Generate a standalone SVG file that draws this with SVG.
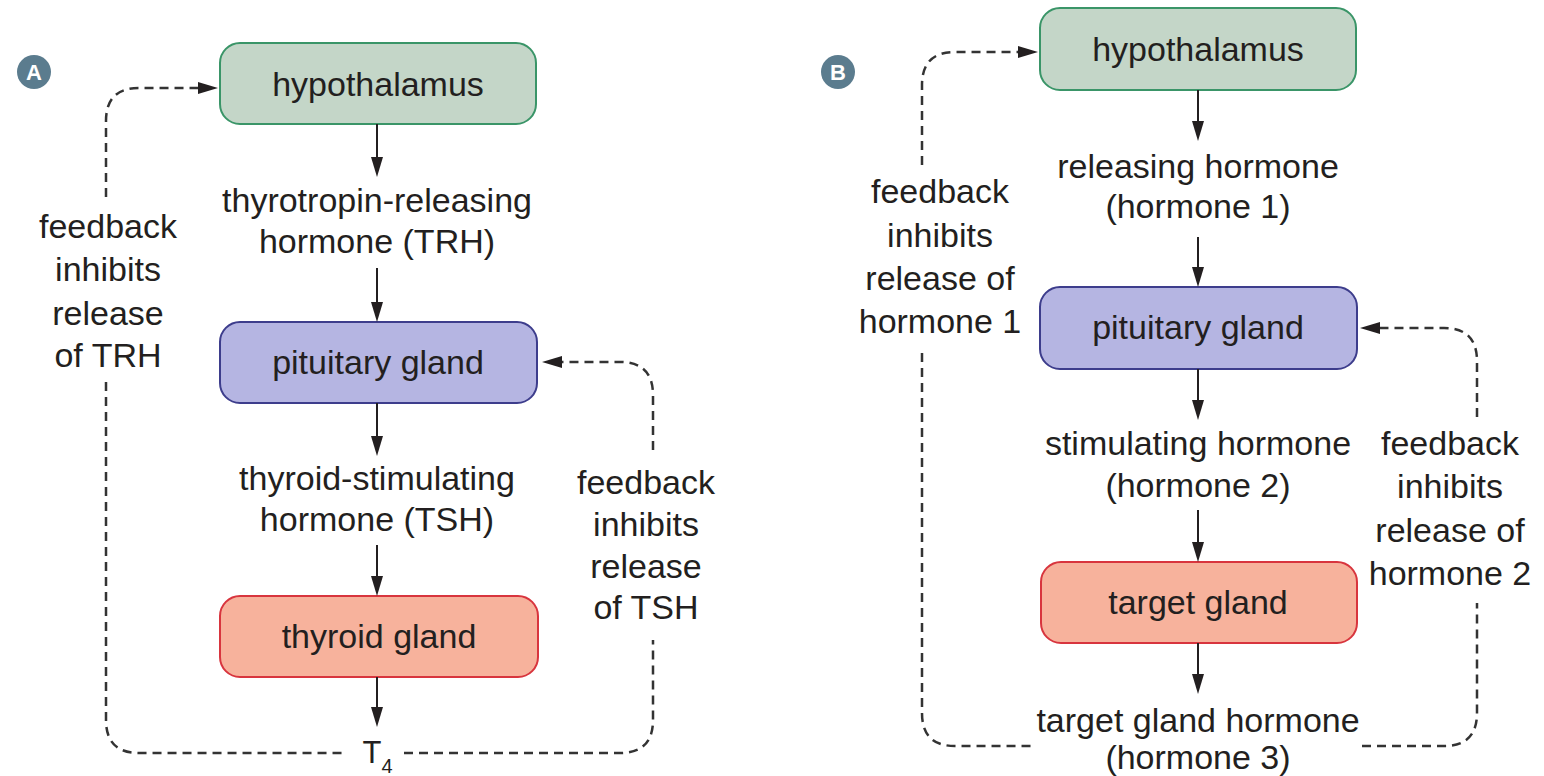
<svg xmlns="http://www.w3.org/2000/svg" width="1544" height="776" viewBox="0 0 1544 776">
<defs>
<style>
.t{font-family:"Liberation Sans",Arial,sans-serif;font-size:34px;fill:#231f20;text-anchor:middle}
.sol{stroke:#231f20;stroke-width:2;fill:none}
.dash{stroke:#333;stroke-width:2.5;fill:none;stroke-dasharray:9 6}
.hyp{fill:#c4d6c8;stroke:#3a9568;stroke-width:2}
.pit{fill:#b5b5e2;stroke:#3d3d8c;stroke-width:2}
.thy{fill:#f7b29c;stroke:#d8353e;stroke-width:2}
.badge{fill:#5b7c8e}
.bt{font-family:"Liberation Sans",Arial,sans-serif;font-size:22px;font-weight:bold;fill:#fff;text-anchor:middle}
</style>
<marker id="ah" viewBox="0 0 20 12" refX="10" refY="6" markerWidth="20" markerHeight="12" markerUnits="userSpaceOnUse" orient="auto">
<path d="M0,0 L20,6 L0,12 z" fill="#231f20"/>
</marker>
</defs>
<rect width="1544" height="776" fill="#fff"/>

<g id="badgeA"><circle class="badge" cx="34" cy="72" r="17"/><text class="bt" x="34" y="80">A</text></g>
<g id="badgeB"><circle class="badge" cx="838" cy="72" r="17"/><text class="bt" x="838" y="80">B</text></g>

<g id="A-hypothalamus"><rect class="hyp" x="220" y="43" width="316" height="81" rx="20"/><text class="t" x="378" y="96">hypothalamus</text></g>
<g id="A-trh"><text class="t" x="377" y="212">thyrotropin-releasing</text><text class="t" x="377" y="253">hormone (TRH)</text></g>
<g id="A-pituitary"><rect class="pit" x="220" y="322" width="317" height="81" rx="20"/><text class="t" x="378" y="374">pituitary gland</text></g>
<g id="A-tsh"><text class="t" x="377" y="490">thyroid-stimulating</text><text class="t" x="377" y="531">hormone (TSH)</text></g>
<g id="A-thyroid"><rect class="thy" x="220" y="596" width="318" height="81" rx="20"/><text class="t" x="379" y="648">thyroid gland</text></g>
<g id="A-t4"><text class="t" x="372" y="763" style="font-size:31px">T</text><text class="t" x="387" y="773" style="font-size:20px">4</text></g>
<g id="A-fb1"><text class="t" x="108" y="238">feedback</text><text class="t" x="108" y="281">inhibits</text><text class="t" x="108" y="325">release</text><text class="t" x="108" y="367">of TRH</text></g>
<g id="A-fb2"><text class="t" x="646" y="494">feedback</text><text class="t" x="646" y="536">inhibits</text><text class="t" x="646" y="578">release</text><text class="t" x="646" y="619">of TSH</text></g>

<g id="B-hypothalamus"><rect class="hyp" x="1040" y="8" width="316" height="82" rx="20"/><text class="t" x="1198" y="61">hypothalamus</text></g>
<g id="B-h1"><text class="t" x="1198" y="178">releasing hormone</text><text class="t" x="1198" y="218">(hormone 1)</text></g>
<g id="B-pituitary"><rect class="pit" x="1040" y="287" width="317" height="82" rx="20"/><text class="t" x="1198" y="339">pituitary gland</text></g>
<g id="B-h2"><text class="t" x="1198" y="455">stimulating hormone</text><text class="t" x="1198" y="497">(hormone 2)</text></g>
<g id="B-target"><rect class="thy" x="1041" y="562" width="316" height="81" rx="20"/><text class="t" x="1198" y="614">target gland</text></g>
<g id="B-h3"><text class="t" x="1198" y="732">target gland hormone</text><text class="t" x="1198" y="769">(hormone 3)</text></g>
<g id="B-fb1"><text class="t" x="940" y="203">feedback</text><text class="t" x="940" y="247">inhibits</text><text class="t" x="940" y="290">release of</text><text class="t" x="940" y="333">hormone 1</text></g>
<g id="B-fb2"><text class="t" x="1450" y="455">feedback</text><text class="t" x="1450" y="498">inhibits</text><text class="t" x="1450" y="542">release of</text><text class="t" x="1450" y="585">hormone 2</text></g>

<g id="connectors">
<line class="sol" x1="377" y1="124" x2="377" y2="167" marker-end="url(#ah)"/>
<line class="sol" x1="377" y1="268" x2="377" y2="312" marker-end="url(#ah)"/>
<line class="sol" x1="377" y1="403" x2="377" y2="446" marker-end="url(#ah)"/>
<line class="sol" x1="377" y1="545" x2="377" y2="586" marker-end="url(#ah)"/>
<line class="sol" x1="377" y1="677" x2="377" y2="717" marker-end="url(#ah)"/>
<path class="dash" d="M106,197 L106,121 Q106,88 139,88 L208,88" marker-end="url(#ah)"/>
<path class="dash" d="M106,382 L106,720 Q106,753 139,753 L347,753"/>
<path class="dash" d="M404,753 L620,753 Q653,753 653,720 L653,640"/>
<path class="dash" d="M653,450 L653,395 Q653,362 620,362 L552,362" marker-end="url(#ah)"/>

<line class="sol" x1="1198" y1="90" x2="1198" y2="131" marker-end="url(#ah)"/>
<line class="sol" x1="1198" y1="237" x2="1198" y2="277" marker-end="url(#ah)"/>
<line class="sol" x1="1198" y1="369" x2="1198" y2="410" marker-end="url(#ah)"/>
<line class="sol" x1="1198" y1="510" x2="1198" y2="552" marker-end="url(#ah)"/>
<line class="sol" x1="1198" y1="643" x2="1198" y2="684" marker-end="url(#ah)"/>
<path class="dash" d="M922,165 L922,85 Q922,52 955,52 L1028,52" marker-end="url(#ah)"/>
<path class="dash" d="M922,353 L922,713 Q922,746 955,746 L1035,746"/>
<path class="dash" d="M1362,746 L1444,746 Q1477,746 1477,713 L1477,603"/>
<path class="dash" d="M1477,417 L1477,361 Q1477,328 1444,328 L1370,328" marker-end="url(#ah)"/>
</g>
</svg>
